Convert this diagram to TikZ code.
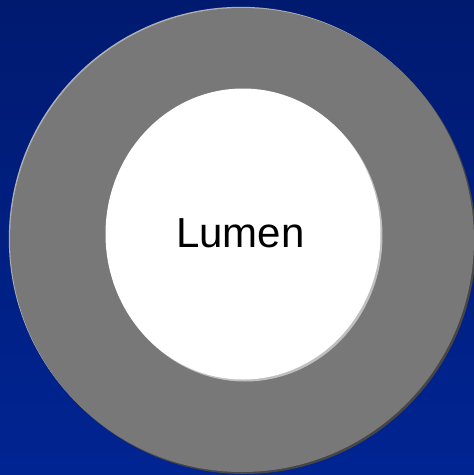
\documentclass[tikz,border=0pt]{standalone}
\usepackage{fontspec}
\setmainfont{Liberation Sans}
\definecolor{bgtop}{RGB}{0,26,112}
\definecolor{bgbot}{RGB}{0,36,146}
\definecolor{ringgray}{RGB}{120,120,120}
\definecolor{ringlight}{RGB}{175,175,175}
\definecolor{ringdark}{RGB}{70,70,70}
\begin{document}
\begin{tikzpicture}[x=1pt,y=-1pt,
  lbl/.style={font=\fontsize{42}{42}\selectfont, text=black, inner sep=0pt, anchor=base}]
\useasboundingbox (0,0) rectangle (474,475);
\shade[top color=bgtop, bottom color=bgbot] (0,0) rectangle (474,475);
% outer ring with bevel
\fill[ringlight] (240.8,238.8) circle [radius=232];
\fill[ringdark] (244,242) circle [radius=232];
\fill[ringgray] (242,240) circle [radius=232];
% inner lumen with bevel
\fill[ringlight!80!white] (245,236) ellipse [x radius=137.5, y radius=145.5];
\fill[white] (243,234) ellipse [x radius=137.5, y radius=145.5];
\node[lbl] (lumen) at (240.5,247) {Lumen};
\end{tikzpicture}
\end{document}
